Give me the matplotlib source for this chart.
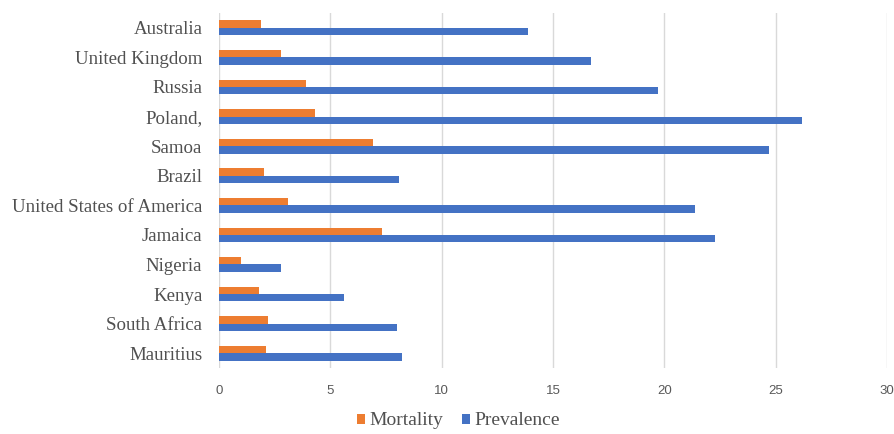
import numpy as np
import matplotlib
matplotlib.use("Agg")
import matplotlib.pyplot as plt

# data, top to bottom as in the chart
countries = ["Australia", "United Kingdom", "Russia", "Poland,", "Samoa", "Brazil",
             "United States of America", "Jamaica", "Nigeria", "Kenya",
             "South Africa", "Mauritius"]
mortality = [1.9, 2.8, 3.9, 4.3, 6.9, 2.0, 3.1, 7.3, 1.0, 1.8, 2.2, 2.1]
prevalence = [13.9, 16.7, 19.7, 26.2, 24.7, 8.1, 21.4, 22.3, 2.8, 5.6, 8.0, 8.2]
xticks = [0, 5, 10, 15, 20, 25, 30]

fig = plt.figure(figsize=(8.94, 4.34), dpi=100)
ax = fig.add_axes([0.245, 0.152, 0.747, 0.818])

y = np.arange(len(countries))
h = 0.25
ax.barh(y - h / 2, mortality, height=h, color="#ED7D31", label="Mortality")
ax.barh(y + h / 2, prevalence, height=h, color="#4472C4", label="Prevalence")

ax.set_ylim(len(countries) - 0.5, -0.5)
ax.set_xlim(0, 30)
ax.set_xticks(xticks)
ax.set_xticklabels([str(t) for t in xticks], fontsize=9.5, color="#595959",
                   family="Liberation Sans")
ax.set_yticks(y)
ax.set_yticklabels(countries, fontsize=13.6, color="#505050", family="Liberation Serif")
ax.tick_params(length=0)
ax.tick_params(axis="x", pad=12)
ax.tick_params(axis="y", pad=12)

ax.grid(axis="x", color="#d9d9d9", linewidth=1)
ax.set_axisbelow(True)
for s in ax.spines.values():
    s.set_visible(False)

fig.legend(loc="center", bbox_to_anchor=(0.513, 0.03), ncol=2, frameon=False,
           prop={"family": "Liberation Serif", "size": 14},
           handlelength=0.42, handleheight=0.42, handletextpad=0.22,
           columnspacing=0.95, labelcolor="#505050", borderaxespad=0)

fig.savefig("out.png", dpi=100)
